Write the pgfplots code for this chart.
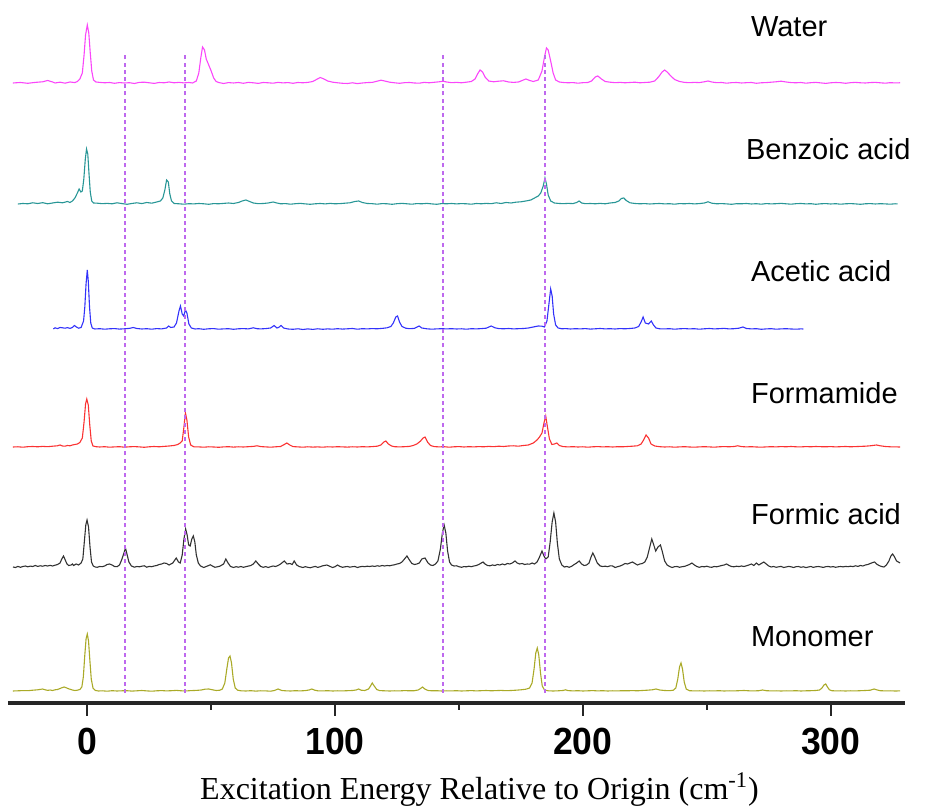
\documentclass[border=0pt]{standalone}
\usepackage{fontspec}
\setmainfont{Liberation Serif}
\setsansfont{Liberation Sans}
\usepackage{graphicx}
\usepackage{pgfplots}
\usepackage{pgfplotstable}
\pgfplotsset{compat=1.18}

\definecolor{cwater}{RGB}{250,70,250}
\definecolor{cbenz}{RGB}{40,150,150}
\definecolor{cacet}{RGB}{50,50,250}
\definecolor{cform}{RGB}{250,50,50}
\definecolor{cformic}{RGB}{50,50,50}
\definecolor{cmono}{RGB}{170,170,40}
\definecolor{cdash}{RGB}{190,105,238}

% Spectra: x = excitation energy (cm^-1), y = intensity above each trace's baseline
\pgfplotstableread[row sep=\\]{x y\\
-30 0\\ -27 0.5\\ -24 -0.3\\ -21 0.6\\ -18 1.2\\ -16 2.5\\ -14 1.0\\ -13 0\\ -11 0.8\\ -9 -0.2\\ -7 1.0\\ -5 0.4\\ -4 1.5\\ -3 4\\ -2 10\\ -1.3 28\\ -0.7 48\\ 0 58\\ 0.6 50\\ 1.2 30\\ 1.8 12\\ 2.5 3\\ 3.5 1\\ 5 0.6\\ 7 0.2\\ 9 0.5\\ 11 -0.3\\ 13 0.4\\ 15 0\\ 17 0.3\\ 19 -0.5\\ 21 0.6\\ 23 0.8\\ 25 0.2\\ 27 -0.4\\ 29 0.5\\ 31 0.2\\ 33 1.0\\ 35 0.2\\ 37 0.6\\ 39 0.1\\ 41 0.5\\ 42.5 0\\ 44 2\\ 45 10\\ 45.8 25\\ 46.5 36\\ 47.3 33\\ 48 24\\ 49 18\\ 50 12\\ 51 5\\ 52 1.5\\ 53 0.5\\ 55 -0.5\\ 57 0.4\\ 59 0\\ 61 0.5\\ 63 -0.3\\ 65 0.6\\ 67 0.2\\ 69 -0.4\\ 71 0.5\\ 73 0.2\\ 75 -0.2\\ 77 0.6\\ 79 0.1\\ 81 0.4\\ 83 -0.3\\ 85 0.5\\ 87 0.2\\ 89 0.6\\ 91 1.5\\ 92.5 3.5\\ 94 5.5\\ 95.5 4\\ 97 2\\ 99 0.8\\ 101 0.2\\ 103 -0.3\\ 105 -0.5\\ 107 0.2\\ 109 -0.6\\ 111 0\\ 113 0.4\\ 115 0.6\\ 117 1.8\\ 118.5 2.8\\ 120 2\\ 122 0.8\\ 124 0.2\\ 126 -0.3\\ 128 0.3\\ 130 0.5\\ 132 0\\ 134 -0.2\\ 136 0.6\\ 138 0.2\\ 140 0.7\\ 142 1.2\\ 143.5 1.8\\ 145 1.0\\ 147 0.3\\ 149 0.6\\ 151 0.2\\ 153 0.8\\ 155 1.5\\ 156.5 4\\ 157.5 9\\ 158.5 13\\ 159.5 11\\ 160.5 6\\ 162 2\\ 164 1.2\\ 166 1.8\\ 168 2.2\\ 170 1.0\\ 172 0.6\\ 174 1.0\\ 175.5 2.5\\ 177 4\\ 178.5 2.5\\ 180 1.5\\ 182 3\\ 183.5 12\\ 184.5 26\\ 185.3 35\\ 186 33\\ 187 22\\ 188 10\\ 189 3\\ 190.5 1\\ 192 0.5\\ 194 0.2\\ 196 0.4\\ 198 -0.2\\ 200 0.3\\ 202 0.5\\ 203.5 2\\ 205 6\\ 206 7\\ 207.5 4\\ 209 1.5\\ 211 0.8\\ 213 0.3\\ 215 0.6\\ 217 0.2\\ 219 0.5\\ 221 0.8\\ 223 0.2\\ 225 0.5\\ 227 0.8\\ 229 2\\ 230.5 6\\ 232 11\\ 233 13\\ 234 11\\ 235.5 7\\ 237 3.5\\ 239 1.5\\ 241 0.6\\ 243 0.3\\ 245 0.6\\ 247 0.4\\ 249 1.2\\ 250.5 2\\ 252 1.0\\ 254 0.3\\ 256 0.5\\ 258 -0.2\\ 260 0.3\\ 262 0.5\\ 264 0\\ 266 0.3\\ 268 0.5\\ 270 -0.3\\ 272 0.2\\ 274 0.4\\ 276 0.8\\ 278 1.2\\ 280 1.8\\ 282 1.0\\ 284 0.4\\ 286 0.2\\ 288 0.5\\ 290 -0.2\\ 292 0.3\\ 294 0.6\\ 296 0.1\\ 298 -0.4\\ 300 0.2\\ 302 0.5\\ 304 0.3\\ 306 -0.3\\ 308 0.3\\ 310 0.6\\ 312 0.2\\ 314 0.0\\ 316 0.4\\ 318 0.6\\ 320 0.2\\ 322 -0.2\\ 324 0.3\\ 326 0.1\\ 328 0.2\\
}\water

\pgfplotstableread[row sep=\\]{x y\\
-28 0\\ -26 0.5\\ -24 0.2\\ -22 1.2\\ -20 0.5\\ -18 1.3\\ -16 0.2\\ -14 1.0\\ -12 1.8\\ -10 1.2\\ -8 2.5\\ -7 1.5\\ -6 3\\ -5 6\\ -4 11\\ -3.3 15\\ -2.6 12\\ -2 13\\ -1.4 25\\ -0.8 45\\ -0.3 55\\ 0.2 50\\ 0.7 30\\ 1.2 12\\ 1.8 3\\ 2.5 1\\ 4 0.8\\ 6 0.3\\ 8 0.6\\ 10 0.2\\ 12 1.2\\ 14 0.4\\ 16 -0.3\\ 18 0.5\\ 20 1.2\\ 22 0.4\\ 24 1.5\\ 26 0.8\\ 28 2\\ 29.5 3\\ 30.5 6\\ 31.3 14\\ 32 24\\ 32.7 22\\ 33.3 10\\ 34 3\\ 35 0.5\\ 37 0.2\\ 39 -0.2\\ 41 0.3\\ 43 0.1\\ 45 0.5\\ 47 0.2\\ 49 -0.3\\ 51 0.4\\ 53 0.2\\ 55 0.6\\ 57 1.0\\ 59 0.5\\ 61 1.5\\ 62.5 3\\ 64 4\\ 65.5 2.5\\ 67 1\\ 69 0.3\\ 71 0.5\\ 73 1.0\\ 75 2\\ 76.5 1\\ 78 0.2\\ 80 0.4\\ 82 -0.2\\ 84 0.3\\ 86 0.6\\ 88 0.1\\ 90 -0.3\\ 92 0.2\\ 94 0.5\\ 96 0.1\\ 98 0.6\\ 100 0.2\\ 102 0.4\\ 104 0.8\\ 106 1.2\\ 108 2.5\\ 109.5 3\\ 111 1.5\\ 113 0.5\\ 115 0.3\\ 117 -0.2\\ 119 0.4\\ 121 0.2\\ 123 -0.3\\ 125 0.3\\ 127 0.6\\ 129 0.2\\ 131 -0.2\\ 133 0.4\\ 135 0.2\\ 137 0.6\\ 139 0.1\\ 141 -0.3\\ 143 0.4\\ 145 0.2\\ 147 0.5\\ 149 0.1\\ 151 0.4\\ 153 0.2\\ 155 -0.2\\ 157 0.5\\ 159 0.2\\ 161 0.6\\ 163 0.3\\ 165 1.2\\ 167 0.5\\ 169 1.5\\ 171 1.0\\ 173 1.8\\ 175 2.2\\ 177 3\\ 179 4\\ 180.5 6\\ 182 8\\ 183 11\\ 184 18\\ 184.7 26\\ 185.3 20\\ 186 9\\ 187 3\\ 188.5 1\\ 190 0.6\\ 192 0.3\\ 194 0.6\\ 196 0.4\\ 197.5 1.5\\ 198.5 3\\ 199.5 1\\ 201 0.3\\ 203 0.5\\ 205 0.2\\ 207 0.6\\ 209 0.2\\ 211 1.0\\ 213 1.5\\ 214.5 3\\ 215.5 5.5\\ 216.5 6\\ 217.5 3.5\\ 219 1.2\\ 221 0.5\\ 223 0.2\\ 225 0.4\\ 227 0\\ 229 0.3\\ 231 0.5\\ 233 0.1\\ 235 0.3\\ 237 -0.2\\ 239 0.4\\ 241 0.2\\ 243 0.5\\ 245 0.1\\ 247 0.4\\ 249 1.0\\ 250.5 2.2\\ 252 0.8\\ 254 0.2\\ 256 0.4\\ 258 0.1\\ 260 -0.3\\ 262 0.3\\ 264 0.2\\ 266 0.5\\ 268 0\\ 270 0.3\\ 272 -0.2\\ 274 0.4\\ 276 0.1\\ 278 0.3\\ 280 0.6\\ 282 0.2\\ 284 -0.2\\ 286 0.3\\ 288 0.5\\ 290 0.1\\ 292 0.3\\ 294 -0.3\\ 296 0.2\\ 298 0.4\\ 300 0\\ 302 0.3\\ 304 -0.2\\ 306 0.2\\ 308 0.4\\ 310 0.1\\ 312 -0.3\\ 314 0.2\\ 316 0.4\\ 318 0\\ 320 0.3\\ 322 0.1\\ 324 -0.2\\ 326 0.2\\ 327 0.1\\
}\benzoic

\pgfplotstableread[row sep=\\]{x y\\
-13.7 0\\ -13 1.2\\ -12 0.4\\ -11 1.5\\ -10 1.2\\ -9 0.8\\ -8 1.4\\ -7 0.6\\ -6 1.5\\ -5.2 3.5\\ -4.4 2\\ -3.5 0.8\\ -2.5 1.5\\ -1.5 8\\ -1 22\\ -0.5 45\\ 0 59\\ 0.4 48\\ 0.9 22\\ 1.4 6\\ 2 1\\ 3 0\\ 5 0.3\\ 7 -0.2\\ 9 0.2\\ 11 0.4\\ 13 -0.1\\ 15 0.2\\ 17 0.6\\ 18.5 1.5\\ 20 0.5\\ 22 0\\ 24 0.3\\ 26 -0.2\\ 28 0.4\\ 30 0.1\\ 32 1.0\\ 32.8 3\\ 33.7 1.5\\ 35 2\\ 36 6\\ 37 18\\ 37.6 23\\ 38.3 15\\ 38.9 13\\ 39.6 19\\ 40.2 16\\ 41 5\\ 42 1\\ 43.5 0\\ 45 0.3\\ 47 -0.3\\ 49 0.2\\ 51 0.4\\ 53 -0.2\\ 55 0.1\\ 57 0.3\\ 59 -0.3\\ 61 0.2\\ 63 0.4\\ 65 0.1\\ 67 1.2\\ 68.5 0.3\\ 70 0.1\\ 72 0.4\\ 74 1.0\\ 75.4 3.5\\ 76.5 1\\ 77.2 1.5\\ 78.2 3.5\\ 79.2 1\\ 81 0\\ 83 -0.3\\ 85 0.2\\ 87 -0.5\\ 89 0.1\\ 91 -0.4\\ 93 0.2\\ 95 -0.3\\ 97 0.1\\ 99 -0.2\\ 101 0.3\\ 103 -0.1\\ 105 0.2\\ 107 0.5\\ 109 -0.2\\ 111 0.3\\ 113 0.1\\ 115 0.4\\ 117 0.2\\ 119 0.6\\ 121 1.2\\ 122.5 2.5\\ 123.5 6\\ 124.5 12\\ 125.2 13\\ 126 7\\ 127 2.5\\ 128.5 0.8\\ 130 0.3\\ 132 0.6\\ 133.9 3\\ 135 1\\ 137 0.2\\ 139 -0.2\\ 141 0.1\\ 143 0.3\\ 145 0.1\\ 147 0.3\\ 149 0\\ 151 0.2\\ 153 -0.2\\ 155 0.3\\ 157 0.1\\ 159 0.4\\ 161 0.8\\ 163 3\\ 164.5 1.2\\ 166 0.4\\ 168 0.2\\ 170 0.5\\ 172 0.1\\ 174 0.3\\ 176 0.5\\ 178 1.0\\ 180 2\\ 182 3\\ 183.5 2.8\\ 184.5 2\\ 185.5 8\\ 186.3 25\\ 187 40\\ 187.6 33\\ 188.2 15\\ 189 4\\ 190 1\\ 191.5 0.2\\ 193 0.4\\ 195 0\\ 197 0.3\\ 199 0.1\\ 201 0.4\\ 203 -0.1\\ 205 0.2\\ 207 0.5\\ 209 0.1\\ 211 0.3\\ 213 0\\ 215 0.4\\ 217 0.2\\ 219 0.5\\ 221 1.0\\ 222.5 2.5\\ 223.5 7\\ 224.3 12\\ 225.2 6\\ 226.5 5\\ 227.6 8\\ 228.5 4\\ 229.5 1\\ 231 0.2\\ 233 0.1\\ 235 0.3\\ 237 -0.2\\ 239 0.2\\ 241 0.4\\ 243 0.1\\ 245 0.3\\ 247 -0.2\\ 249 0.2\\ 251 0.5\\ 253 0.1\\ 255 0.3\\ 257 0.6\\ 259 0.1\\ 261 0.3\\ 263 0.8\\ 264.6 2\\ 266 0.5\\ 268 0.1\\ 270 0.3\\ 272 -0.3\\ 274 0.1\\ 276 0.3\\ 278 -0.2\\ 280 0.1\\ 282 0.3\\ 284 0\\ 286 -0.2\\ 288 0.1\\ 289 0\\
}\acetic

\pgfplotstableread[row sep=\\]{x y\\
-30 0\\ -28 0.2\\ -26 -0.2\\ -24 0.3\\ -22 0.5\\ -20 0.2\\ -18 0.6\\ -16 0.3\\ -14 0.8\\ -12 1.2\\ -11 2\\ -10 1\\ -9 0.8\\ -8 1.5\\ -7 1.2\\ -6 2\\ -5 2.5\\ -4 3\\ -3 4.5\\ -2 9\\ -1.3 25\\ -0.7 43\\ -0.2 48\\ 0.4 42\\ 1 22\\ 1.6 6\\ 2.3 1\\ 3.5 0.3\\ 5 0\\ 7 0.3\\ 9 -0.2\\ 11 0.1\\ 13 0.3\\ 15 -0.2\\ 17 0.2\\ 19 0.4\\ 21 0.1\\ 23 -0.3\\ 25 0.2\\ 27 0.5\\ 29 0.2\\ 31 0.6\\ 33 1.0\\ 35 1.5\\ 36.5 2.5\\ 37.5 4\\ 38.3 6\\ 39 20\\ 39.6 34\\ 40.2 27\\ 40.9 10\\ 41.7 2\\ 43 0.2\\ 45 0.1\\ 47 -0.2\\ 49 0.2\\ 51 0\\ 53 -0.3\\ 55 0.1\\ 57 0.3\\ 59 -0.1\\ 61 0.2\\ 63 0\\ 65 0.3\\ 67 0.6\\ 68.5 1.2\\ 70 0.4\\ 72 0.1\\ 74 -0.2\\ 76 0.2\\ 78 0.5\\ 79.5 2.5\\ 80.5 4\\ 81.7 2\\ 83 0.4\\ 85 0.1\\ 87 -0.2\\ 89 0.2\\ 91 -0.1\\ 93 0.1\\ 95 -0.2\\ 97 0.2\\ 99 0\\ 101 0.3\\ 103 0.1\\ 105 -0.1\\ 107 0.2\\ 109 0\\ 111 0.3\\ 113 0.1\\ 115 0.4\\ 117 0.8\\ 118.5 2\\ 119.7 5\\ 120.5 6\\ 121.5 3\\ 122.8 1\\ 124 0.3\\ 126 0.1\\ 128 0.3\\ 130 0.6\\ 131.5 1.5\\ 133 3\\ 134.5 6\\ 135.5 9\\ 136.3 10\\ 137.3 5\\ 138.5 1.5\\ 140 0.4\\ 142 0.1\\ 144 0.3\\ 146 -0.2\\ 148 0.2\\ 150 0.4\\ 152 0\\ 154 0.3\\ 156 0.1\\ 158 0.4\\ 160 0.2\\ 162 0.6\\ 164 0.3\\ 166 0.8\\ 168 0.5\\ 170 1.0\\ 172 1.2\\ 174 0.8\\ 176 1.5\\ 178 2\\ 180 4\\ 181.5 7\\ 182.5 10\\ 183.5 14\\ 184.3 24\\ 185 31\\ 185.7 20\\ 186.5 8\\ 187.5 2.5\\ 188.5 3\\ 189.5 4\\ 190.5 1.5\\ 192 0.4\\ 194 0.1\\ 196 0.3\\ 198 0\\ 200 0.2\\ 202 -0.2\\ 204 0.2\\ 206 0.4\\ 208 0.1\\ 210 0.3\\ 212 0\\ 214 0.3\\ 216 0.2\\ 218 0.5\\ 220 0.8\\ 222 1.2\\ 223.5 3\\ 224.5 7\\ 225.5 12\\ 226.5 9\\ 227.5 3\\ 229 1\\ 231 0.3\\ 233 0\\ 235 0.2\\ 237 -0.2\\ 239 0.1\\ 241 0.3\\ 243 0\\ 245 -0.2\\ 247 0.1\\ 249 0.3\\ 251 0.1\\ 253 -0.2\\ 255 0.2\\ 257 0.4\\ 259 0.2\\ 261 0.5\\ 262.5 1.2\\ 264 0.4\\ 266 0.1\\ 268 0.3\\ 270 0\\ 272 -0.2\\ 274 0.1\\ 276 0.3\\ 278 0.1\\ 280 0.4\\ 282 0.2\\ 284 0.5\\ 286 0.2\\ 288 0.1\\ 290 0.4\\ 292 0.2\\ 294 0.5\\ 296 0.3\\ 298 0.2\\ 300 0.4\\ 302 0.1\\ 304 0.3\\ 306 0.5\\ 308 0.2\\ 310 0.4\\ 312 0.6\\ 314 0.8\\ 316 1.2\\ 318.5 2\\ 320 1.2\\ 322 0.5\\ 324 0.2\\ 326 0.1\\ 328 0\\
}\formamide

\pgfplotstableread[row sep=\\]{x y\\
-30 0\\ -29 -0.5\\ -28 0.6\\ -27 -0.3\\ -26 0.5\\ -25 1.0\\ -24 0.2\\ -23 0.9\\ -22 0.5\\ -21 1.5\\ -20 0.6\\ -19 1.2\\ -18 0.8\\ -17 1.5\\ -16 1.0\\ -15 1.6\\ -14 1.0\\ -13 1.8\\ -12 2.5\\ -11 4\\ -10.3 8\\ -9.6 11\\ -8.9 7\\ -8.2 3\\ -7.5 1.5\\ -6.5 2\\ -6 3\\ -5.5 1.5\\ -4.5 3\\ -3.5 2\\ -2.5 4\\ -1.8 8\\ -1.2 25\\ -0.6 42\\ -0.1 47\\ 0.5 40\\ 1.1 20\\ 1.7 5\\ 2.4 1\\ 3.2 0\\ 4 -0.3\\ 5 0.5\\ 6 0.3\\ 7 1\\ 8 2.5\\ 9 3\\ 10 2\\ 11 0.5\\ 12 0.3\\ 13 2\\ 14 8\\ 14.8 14\\ 15.4 19\\ 16 13\\ 16.8 5\\ 17.8 1\\ 19 -0.2\\ 20 0.5\\ 21 0.2\\ 22 0.8\\ 23 1.2\\ 24 -0.2\\ 25 0.6\\ 26 0.3\\ 27 1.0\\ 28 1.5\\ 29 2.5\\ 30 3\\ 31 4\\ 32 3.5\\ 33 2\\ 34.5 4\\ 35.9 9\\ 36.8 5\\ 37.5 4\\ 38.3 12\\ 39 28\\ 39.7 38\\ 40.3 32\\ 40.9 22\\ 41.5 21\\ 42.2 28\\ 42.8 31\\ 43.4 25\\ 44 12\\ 44.8 4\\ 45.7 1\\ 47 -0.5\\ 48 0.5\\ 49 1.5\\ 49.6 2.2\\ 50.5 1\\ 51.5 -0.3\\ 52.5 0.2\\ 53.5 0.8\\ 55 3\\ 55.9 8\\ 56.8 4\\ 57.8 0.5\\ 59 -0.5\\ 60 0.3\\ 61 -0.2\\ 62 0.5\\ 63 -0.3\\ 64 0.3\\ 65 0.9\\ 66 1.5\\ 67 3\\ 68 6\\ 69 3\\ 70 0.5\\ 71 -0.3\\ 72 0.4\\ 73 -0.5\\ 74 0.3\\ 75 1.0\\ 76 0.5\\ 77 1.5\\ 78 3\\ 79.5 6\\ 80.6 3\\ 81.8 3.5\\ 82.7 2.5\\ 83.5 6\\ 84.5 2\\ 85.5 0.5\\ 87 -0.5\\ 88 0.3\\ 89 -0.3\\ 90 -0.8\\ 91 0\\ 92 0.6\\ 93 -0.4\\ 94 0.3\\ 95 1.2\\ 96.7 2\\ 98 0.5\\ 99 -0.5\\ 100 0.3\\ 101 2\\ 102 0.5\\ 103 -0.3\\ 104 0.2\\ 105 0.5\\ 106 -0.2\\ 107 0.3\\ 108 0.5\\ 109 -0.5\\ 110 0.2\\ 111 0.6\\ 112 0.3\\ 113 0.8\\ 114 0.5\\ 115 1.0\\ 116 0.6\\ 117 1.2\\ 118 0.8\\ 119 1.5\\ 120 1.0\\ 121 1.5\\ 122 1.2\\ 123 1.8\\ 124 2.2\\ 125 3\\ 126 3.5\\ 127 5\\ 128 8\\ 129 11\\ 130 7\\ 131 3.5\\ 132 2.5\\ 133 3\\ 134 4\\ 135 8\\ 136.3 9\\ 137.5 4\\ 138.5 2\\ 139.5 1.5\\ 140.5 3\\ 141.5 6\\ 142.5 18\\ 143.3 34\\ 144 42\\ 144.7 34\\ 145.4 16\\ 146.2 5\\ 147 2\\ 148 1\\ 149 1.2\\ 150 0.3\\ 151 -0.3\\ 152 0.4\\ 153 0.2\\ 154 0.8\\ 155 0.3\\ 156 1.0\\ 157 1.5\\ 158 2.5\\ 159 4\\ 159.7 5\\ 160.5 3\\ 161.5 1.5\\ 162.5 1.2\\ 163.5 2\\ 164.5 1.5\\ 165.5 2.5\\ 166.5 2\\ 167.5 3\\ 168.5 2.2\\ 169.5 3.5\\ 170.5 3\\ 171.5 4\\ 172.6 6\\ 173.5 4\\ 174.5 3\\ 175.5 3.5\\ 176.5 2.5\\ 177.5 3\\ 178.5 2.8\\ 179.5 4\\ 180.5 3\\ 181.5 5\\ 182.5 10\\ 183.5 16\\ 184.3 11\\ 185 8\\ 186 10\\ 186.8 25\\ 187.6 45\\ 188.3 54\\ 189 45\\ 189.7 24\\ 190.5 8\\ 191.5 2\\ 192.5 0\\ 193.5 0.5\\ 194.5 -0.3\\ 195.5 0.8\\ 196.5 2.5\\ 197.5 4\\ 198.5 6\\ 199.5 3\\ 200.5 1.5\\ 201.5 2\\ 202.5 4\\ 203.3 10\\ 204 14\\ 204.8 10\\ 205.8 4\\ 207 1\\ 208 0.5\\ 209 0.8\\ 210 0.3\\ 211 1.2\\ 212 1\\ 213 -0.5\\ 214 0.3\\ 215 1\\ 216 2\\ 217 3.5\\ 218 3\\ 219 4\\ 220 5\\ 221 3.5\\ 222 2\\ 223 3\\ 224 3.5\\ 225 5\\ 226 10\\ 227 20\\ 227.8 28\\ 228.6 22\\ 229.4 16\\ 230.3 20\\ 231.3 22\\ 232 16\\ 233 6\\ 234 2\\ 235 0.5\\ 236 -0.5\\ 237 0.3\\ 238 0.5\\ 239 -0.3\\ 240 0.3\\ 241 0.6\\ 242 1.5\\ 243 2.5\\ 244 4\\ 245 2\\ 246 0.5\\ 247 -0.3\\ 248 0.5\\ 249 0.2\\ 250 0.8\\ 251 0\\ 252 -0.3\\ 253 0.5\\ 254 0.2\\ 255 0.8\\ 256 1.5\\ 257 2\\ 258 3\\ 259 1.5\\ 260 0.5\\ 261 0.2\\ 262 0.8\\ 263 0.4\\ 264 1.0\\ 265 0.5\\ 266 1.2\\ 267 2\\ 268 3\\ 269 1.5\\ 270 4\\ 271 2\\ 272 3.5\\ 273 5\\ 274 3\\ 275 1\\ 276 0\\ 277 0.5\\ 278 -0.3\\ 279 0.2\\ 280 0.6\\ 281 -0.5\\ 282 0\\ 283 0.6\\ 284 0.2\\ 285 -0.5\\ 286 0.3\\ 287 0.5\\ 288 -0.3\\ 289 0.2\\ 290 -0.6\\ 291 0\\ 292 0.5\\ 293 -0.4\\ 294 0.2\\ 295 0.5\\ 296 0.1\\ 297 -0.4\\ 298 0.3\\ 299 0.5\\ 300 0\\ 301 0.4\\ 302 -0.3\\ 303 0.2\\ 304 0.5\\ 305 0.1\\ 306 0.6\\ 307 0.3\\ 308 0.8\\ 309 0.4\\ 310 1.2\\ 311 0.6\\ 312 1.5\\ 313 1.0\\ 314 2\\ 315 2.5\\ 316 3.5\\ 317 4.5\\ 317.7 5\\ 318.5 3\\ 319.5 1.5\\ 320.5 0.5\\ 321.5 0\\ 322.5 2\\ 323.5 6\\ 324.3 11\\ 325 13\\ 325.8 10\\ 326.6 6\\ 327.3 5\\ 328 4\\
}\formic

\pgfplotstableread[row sep=\\]{x y\\
-30 0\\ -28 0.2\\ -26 0.4\\ -24 0.3\\ -22 0.8\\ -20 1.2\\ -18 2\\ -17 1.2\\ -16 0.6\\ -15 1.0\\ -14 0.5\\ -13 1.2\\ -12 1.5\\ -11 2.5\\ -10 3.5\\ -9.3 4\\ -8.3 3\\ -7.3 2\\ -6 1\\ -5 0.5\\ -4 0.8\\ -3 1.5\\ -2.2 4\\ -1.6 14\\ -1 36\\ -0.5 52\\ 0 57\\ 0.5 50\\ 1 32\\ 1.6 12\\ 2.3 3\\ 3.2 0.6\\ 4.5 0\\ 6 0.2\\ 8 -0.2\\ 10 0.3\\ 12 0\\ 14 0.2\\ 16 0.3\\ 18 -0.1\\ 20 0.2\\ 22 0.5\\ 24 0.1\\ 26 -0.2\\ 28 0.2\\ 30 0.4\\ 32 0.1\\ 34 0.3\\ 36 0.6\\ 38 0.2\\ 40 0.1\\ 42 0.4\\ 44 0.6\\ 46 1.0\\ 47.5 1.8\\ 49 2\\ 50.5 1.2\\ 52 0.5\\ 53.5 0.8\\ 54.5 2\\ 55.5 8\\ 56.3 22\\ 57 33\\ 57.6 35\\ 58.2 28\\ 58.9 12\\ 59.7 3\\ 60.7 0.8\\ 62 0.2\\ 64 0\\ 66 0.3\\ 68 -0.1\\ 70 0.2\\ 72 0.1\\ 74 -0.2\\ 75.5 0.5\\ 77 2\\ 78.5 0.5\\ 80 0.2\\ 82 0\\ 84 0.3\\ 86 0.1\\ 88 0.4\\ 89.5 1\\ 90.6 2\\ 91.8 0.8\\ 93 0.2\\ 95 0.1\\ 97 0.3\\ 99 0\\ 101 0.2\\ 103 0.1\\ 105 0.3\\ 107 0.5\\ 108.5 1.0\\ 109.5 2\\ 110.5 0.8\\ 112 0.5\\ 113.5 2\\ 114.3 5\\ 115 8\\ 115.8 5\\ 116.8 1.5\\ 118 0.4\\ 120 0.2\\ 122 0\\ 124 0.2\\ 126 0.1\\ 128 0.4\\ 130 0.2\\ 132 0.3\\ 133.5 1\\ 134.5 2.5\\ 135.3 4\\ 136.2 2\\ 137.5 0.5\\ 139 0.2\\ 141 0.3\\ 143 0\\ 145 0.2\\ 147 0.1\\ 149 0.3\\ 151 0\\ 153 0.2\\ 155 0.4\\ 157 0.1\\ 159 0.3\\ 161 0.5\\ 163 0.2\\ 165 0.4\\ 167 0.6\\ 169 0.3\\ 171 0.5\\ 173 0.8\\ 175 1.2\\ 177 1.8\\ 178.5 3\\ 179.5 8\\ 180.3 22\\ 181 38\\ 181.6 43\\ 182.2 36\\ 182.9 18\\ 183.6 5\\ 184.5 1\\ 186 0.2\\ 188 0\\ 190 0.2\\ 192 0.5\\ 193 1.2\\ 194 0.4\\ 196 0.1\\ 198 0.3\\ 200 0\\ 202 0.2\\ 204 0.4\\ 206 0.1\\ 208 0.3\\ 210 0\\ 212 0.2\\ 214 0.1\\ 216 0.3\\ 218 0.2\\ 220 0.4\\ 222 0.2\\ 224 0.5\\ 226 0.8\\ 228 1.2\\ 229.5 2\\ 231 1\\ 233 0.5\\ 235 0.3\\ 236.5 0.8\\ 237.5 3\\ 238.3 12\\ 239 24\\ 239.6 28\\ 240.2 22\\ 240.9 9\\ 241.7 2\\ 243 0.3\\ 245 0.1\\ 247 0.2\\ 249 0\\ 251 0.2\\ 253 0.1\\ 255 0.3\\ 257 0\\ 259 0.2\\ 261 0.1\\ 263 0.3\\ 265 0.5\\ 267 0.2\\ 269 0.1\\ 271 0.3\\ 272.5 1\\ 274 0.3\\ 276 0.1\\ 278 0.2\\ 280 0\\ 282 0.2\\ 284 0.1\\ 286 0.3\\ 288 0\\ 290 0.2\\ 292 0.3\\ 294 0.5\\ 295.5 1\\ 296.5 3\\ 297.3 6\\ 298 7\\ 298.7 4\\ 299.5 1.2\\ 300.5 0.3\\ 302 0.1\\ 304 0.2\\ 306 0\\ 308 0.2\\ 310 0.1\\ 312 0.3\\ 314 0.5\\ 316 0.8\\ 317.5 2\\ 318.5 1.2\\ 320 0.3\\ 322 0.1\\ 324 0.2\\ 326 0\\ 328 0.1\\
}\monomer

\begin{document}
\begin{tikzpicture}
\begin{axis}[
  at={(0pt,0pt)}, anchor=south west,
  width=448.5pt, height=351.5pt, scale only axis,
  xmin=-32, xmax=330, ymin=0, ymax=703,
  clip=false,
  axis x line=bottom, axis y line=none,
  x axis line style={-},
  every outer x axis line/.append style={-},
  axis line style={line width=1.7pt, black!85},
  xtick={0,100,200,300}, minor xtick={50,150,250},
  tick align=outside,
  major tick length=6.5pt, minor tick length=3.5pt,
  every tick/.style={black!85, line width=1pt},
  /pgf/number format/assume math mode=true,
  xticklabel style={font=\sffamily\bfseries\fontsize{18.9}{20}\selectfont, anchor=base, yshift=-19.5pt},
  xticklabel={\scalebox{0.94}[1]{\pgfmathprintnumber{\tick}}},
  xlabel={Excitation Energy Relative to Origin (cm\textsuperscript{-1})},
  xlabel style={font=\rmfamily\fontsize{16}{18}\selectfont, at={(axis description cs:0.5256,0)}, anchor=base, yshift=-48.5pt},
  every axis plot/.append style={line width=0.55pt},
]
\addplot[cwater] table[x=x, y expr=\thisrow{y}+620] {\water};
\addplot[cbenz] table[x=x, y expr=\thisrow{y}+499] {\benzoic};
\addplot[cacet] table[x=x, y expr=\thisrow{y}+374] {\acetic};
\addplot[cform] table[x=x, y expr=\thisrow{y}+256] {\formamide};
\addplot[cformic] table[x=x, y expr=\thisrow{y}+136] {\formic};
\addplot[cmono] table[x=x, y expr=\thisrow{y}+12] {\monomer};

% reference lines marking the shared bands
\addplot[cdash, line width=0.75pt, dash pattern=on 2pt off 1.6pt] coordinates {(15.3,10) (15.3,650)};
\addplot[cdash, line width=0.75pt, dash pattern=on 2pt off 1.6pt] coordinates {(39.5,10) (39.5,650)};
\addplot[cdash, line width=0.75pt, dash pattern=on 2pt off 1.6pt] coordinates {(143.5,10) (143.5,650)};
\addplot[cdash, line width=0.75pt, dash pattern=on 2pt off 1.6pt] coordinates {(184.7,10) (184.7,650)};

\begin{scope}[every node/.style={anchor=base west, font=\sffamily\fontsize{14.5}{16}\selectfont, inner sep=0pt}]
\node at (axis cs:267.7,666) {Water};
\node at (axis cs:265.7,543) {Benzoic acid};
\node at (axis cs:267.7,421) {Acetic acid};
\node at (axis cs:267.7,299) {Formamide};
\node at (axis cs:267.7,178) {Formic acid};
\node at (axis cs:267.7,56) {Monomer};
\end{scope}
\end{axis}
\pgfresetboundingbox
\path (-4pt,-52pt) rectangle (458.5pt,351.5pt);
\end{tikzpicture}
\end{document}
